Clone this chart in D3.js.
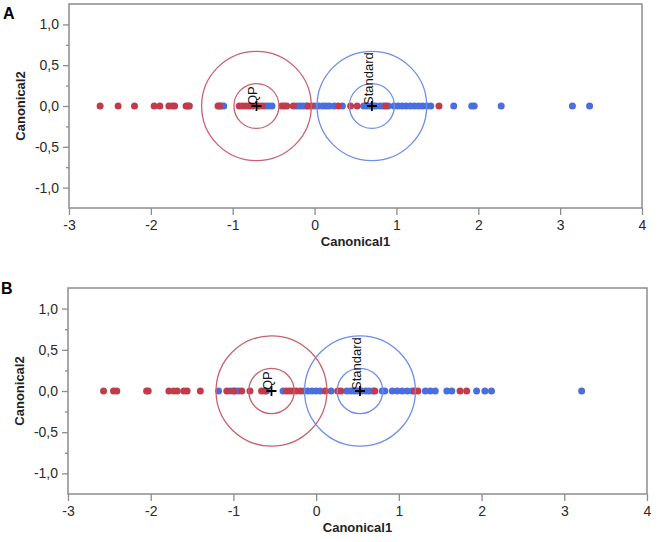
<!DOCTYPE html>
<html>
<head>
<meta charset="utf-8">
<script src="https://cdn.jsdelivr.net/npm/d3@7"></script>
<style>
  body { margin: 0; background: #fff; }
  text { font-family: "Liberation Sans", Arial, sans-serif; }
</style>
</head>
<body>
<script>
// Canonical1 scores (all points sit on Canonical2 = 0)
var qpA = [-2.62, -2.40, -2.20, -1.96, -1.89, -1.78, -1.74, -1.71, -1.57, -1.55, -1.53,
  -1.18, -1.16, -0.92, -0.88, -0.84, -0.80, -0.76, -0.68, -0.64, -0.40, -0.37, -0.34,
  -0.26, -0.08, -0.04, 0.29, 0.44, 0.52, 0.87, 1.52];
var stdA = [-1.14, -1.11, -0.60, -0.56, -0.52, -0.22, -0.18, -0.14, -0.10, 0.00, 0.05,
  0.10, 0.14, 0.18, 0.24, 0.34, 0.60, 0.64, 0.68, 0.72, 0.75, 0.80, 0.84, 0.90, 0.97,
  1.02, 1.07, 1.12, 1.17, 1.22, 1.27, 1.32, 1.37, 1.42, 1.70, 1.92, 1.95, 2.28, 3.15, 3.36];
var qpB = [-2.57, -2.45, -2.41, -2.05, -2.03, -1.78, -1.72, -1.68, -1.60, -1.56, -1.40,
  -1.08, -1.00, -0.90, -0.80, -0.66, -0.62, -0.36, -0.32, -0.28, -0.24, -0.19, 0.11,
  0.26, 0.30, 0.71, 1.19, 1.23, 1.74, 1.82];
var stdB = [-1.18, -1.04, -0.98, -0.94, -0.60, -0.40, -0.15, -0.10, -0.05, 0.00, 0.05,
  0.18, 0.37, 0.42, 0.46, 0.50, 0.55, 0.60, 0.64, 0.69, 0.80, 0.83, 0.92, 0.98, 1.04,
  1.10, 1.16, 1.32, 1.38, 1.44, 1.58, 1.64, 1.94, 2.04, 2.12, 3.21];

// group means and their circle radii (inner, outer) in canonical units
var groupNames = ["QP", "Standard"];
var meansA = [-0.71, 0.70];
var meansB = [-0.54, 0.53];
var radii = [0.275, 0.67];

var xTicks = [-3, -2, -1, 0, 1, 2, 3, 4];
var yTicks = [-1, -0.5, 0, 0.5, 1];
var yMinor = [-0.75, -0.25, 0.25, 0.75];

var dotColor = ["#c03c4c", "#4a6ee0"];
var ringColor = ["#c9626d", "#6f8ee9"];

var f1 = d3.formatLocale({decimal: ",", thousands: ".", grouping: [3], currency: ["", ""], minus: "-"}).format(".1f");
var fInt = function(d) { return String(d); };

var svg = d3.select("body").append("svg").attr("width", 658).attr("height", 542);

function panel(letter, box, qp, std, means) {
  var g = svg.append("g");
  var x = d3.scaleLinear().domain([-3, 4]).range([box.left, box.right]);
  var y = d3.scaleLinear().domain([-1.25, 1.25]).range([box.bottom, box.top]);

  g.append("text").attr("x", box.lx).attr("y", box.ly)
    .style("font-size", "16px").style("font-weight", "bold").text(letter);

  // points
  var pts = std.map(function(v){return {v: v, k: 1};})
    .concat(qp.map(function(v){return {v: v, k: 0};}));
  g.selectAll("circle.pt").data(pts).enter().append("circle")
    .attr("class", "pt")
    .attr("cx", function(d){return x(d.v);})
    .attr("cy", y(0))
    .attr("r", 3.5)
    .style("fill", function(d){return dotColor[d.k];});

  // rings, crosses, labels
  means.forEach(function(m, k) {
    radii.forEach(function(r) {
      g.append("ellipse")
        .attr("cx", x(m)).attr("cy", y(0))
        .attr("rx", x(r) - x(0)).attr("ry", y(0) - y(r))
        .style("fill", "none").style("stroke", ringColor[k]).style("stroke-width", 1.3);
    });
    g.append("path")
      .attr("d", "M" + (x(m) - 5) + "," + y(0) + "h10M" + x(m) + "," + (y(0) - 5) + "v10")
      .style("stroke", "#000").style("stroke-width", 1.8);
    g.append("text")
      .attr("transform", "translate(" + (x(m) + 1) + "," + (y(0) - 1) + ") rotate(-90)")
      .style("font-size", "13px").style("fill", "#111")
      .text(groupNames[k]);
  });

  // frame
  g.append("rect")
    .attr("x", box.left).attr("y", box.top)
    .attr("width", box.right - box.left).attr("height", box.bottom - box.top)
    .style("fill", "none").style("stroke", "#8c8c8c").style("stroke-width", 1.5);

  var xa = g.append("g").attr("transform", "translate(0," + box.bottom + ")")
    .call(d3.axisBottom(x).tickValues(xTicks).tickSize(7).tickPadding(5).tickFormat(fInt));
  var ya = g.append("g").attr("transform", "translate(" + box.left + ",0)")
    .call(d3.axisLeft(y).tickValues(yTicks).tickSize(6).tickPadding(4).tickFormat(f1));
  var ym = g.append("g").attr("transform", "translate(" + box.left + ",0)")
    .call(d3.axisLeft(y).tickValues(yMinor).tickSize(3).tickFormat(""));
  [xa, ya, ym].forEach(function(a) {
    a.select(".domain").remove();
    a.selectAll("line").style("stroke", "#8c8c8c").style("stroke-width", 1.3);
    a.selectAll("text").style("font-size", "14px").style("fill", "#2a2a2a")
      .style("font-family", "'Liberation Sans', Arial, sans-serif");
  });

  g.append("text")
    .attr("x", (box.left + box.right) / 2).attr("y", box.bottom + 38)
    .attr("text-anchor", "middle")
    .style("font-size", "13px").style("font-weight", "bold").style("fill", "#222")
    .text("Canonical1");
  g.append("text")
    .attr("transform", "translate(" + (box.left - 44) + "," + ((box.top + box.bottom) / 2) + ") rotate(-90)")
    .attr("text-anchor", "middle")
    .style("font-size", "13px").style("font-weight", "bold").style("fill", "#222")
    .text("Canonical2");
}

panel("A", {left: 69, right: 642, top: 4, bottom: 208, lx: 3, ly: 19}, qpA, stdA, meansA);
panel("B", {left: 68, right: 647, top: 288, bottom: 494, lx: 1, ly: 294}, qpB, stdB, meansB);
</script>
</body>
</html>
